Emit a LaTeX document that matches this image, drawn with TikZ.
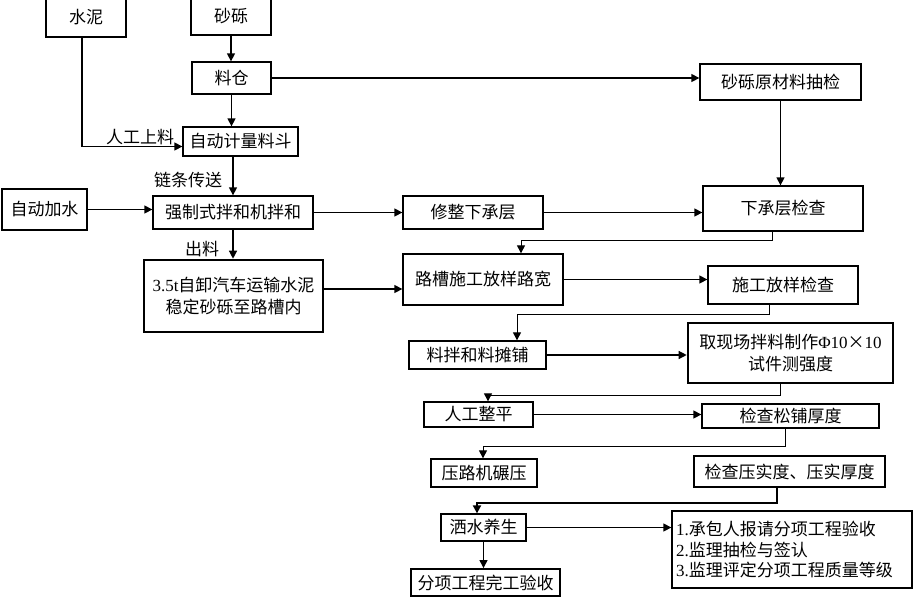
\documentclass[tikz,border=0pt]{standalone}
\usepackage{fontspec}
\setmainfont{Noto Sans CJK SC}
\newfontfamily\lat{Liberation Serif}
\usepackage{tikz}
\usetikzlibrary{arrows.meta, positioning, calc}
\newcommand\boxfont{\fontsize{17}{22}\selectfont}
\tikzset{
    % boxes with sharp corners
    stepbox/.style={
        rectangle,
        draw=black,
        fill=white,
        line width=1.3pt,
        inner sep=0pt,
        align=center,
        font=\boxfont
    },
    stepbox thick/.style={
        stepbox,
        line width=2.6pt
    },
    stepbox medium/.style={
        stepbox,
        line width=1.9pt
    },
    side label/.style={
        inner sep=0pt,
        font=\boxfont
    },
    arrow style/.style={
        -{Triangle[length=8pt,width=8pt]},
        line width=1.3pt,
        black
    },
    link style/.style={
        arrow style,
        line width=1pt
    }
}

\begin{document}
\begin{tikzpicture}[x=1pt, y=-1pt]
        \useasboundingbox (0,0) rectangle (914,598);

        % raw materials
        \node[stepbox, minimum width=80pt, minimum height=39pt] (shuini) at (86,17.5) {水泥};
        \node[stepbox, minimum width=80pt, minimum height=37pt] (shali) at (231,16.5) {砂砾};
        \node[stepbox, minimum width=79pt, minimum height=32pt] (liaocang) at (231.5,78) {料仓};
        \node[stepbox, minimum width=115pt, minimum height=29pt] (jiliang) at (240.5,141.5) {自动计量料斗};

        % mixing
        \node[stepbox, minimum width=85pt, minimum height=41pt] (jiashui) at (44.5,209.5) {自动加水};
        \node[stepbox, minimum width=160pt, minimum height=33pt] (jiaoban) at (233,212.5) {强制式拌和机拌和};
        \node[stepbox thick, minimum width=179pt, minimum height=72pt] (yunshu) at (233.5,296) {{\lat 3.5t}自卸汽车运输水泥\\稳定砂砾至路槽内};

        % construction steps
        \node[stepbox, minimum width=140pt, minimum height=33pt] (xiuzheng) at (473,212.5) {修整下承层};
        \node[stepbox, minimum width=160pt, minimum height=51pt] (lucao) at (483,279.5) {路槽施工放样路宽};
        \node[stepbox, minimum width=137pt, minimum height=28pt] (tanpu) at (477.5,355) {料拌和料摊铺};
        \node[stepbox, minimum width=109pt, minimum height=25pt] (zhengping) at (478.5,414.5) {人工整平};
        \node[stepbox, minimum width=106pt, minimum height=28pt] (nianya) at (484,473) {压路机碾压};
        \node[stepbox, minimum width=85pt, minimum height=27pt] (yangsheng) at (483.5,527.5) {洒水养生};
        \node[stepbox medium, minimum width=149pt, minimum height=27pt] (wangong) at (485.5,582.5) {分项工程完工验收};

        % checks
        \node[stepbox, minimum width=161pt, minimum height=36pt] (choujian) at (780.5,82) {砂砾原材料抽检};
        \node[stepbox, minimum width=160pt, minimum height=45pt] (xiajiancha) at (783,208.5) {下承层检查};
        \node[stepbox, minimum width=150pt, minimum height=38pt] (fangyang) at (783,285) {施工放样检查};
        \node[stepbox thick, minimum width=205pt, minimum height=60pt] (shiyan) at (790.5,353) {取现场拌料制作{\lat Φ10}×{\lat 10}\\试件测强度};
        \node[stepbox, minimum width=177pt, minimum height=24pt] (songpu) at (790.5,416) {检查松铺厚度};
        \node[stepbox medium, minimum width=191pt, minimum height=31pt] (yashi) at (789.5,471.5) {检查压实度、压实厚度};
        \node[stepbox, minimum width=240pt, minimum height=77pt, align=left, text width=232pt, font=\fontsize{17}{20.5}\selectfont] (yanshou) at (792,549.5) {{\lat 1.}承包人报请分项工程验收\\{\lat 2.}监理抽检与签认\\{\lat 3.}监理评定分项工程质量等级};

        % labels on the arrows
        \node[side label] (shangliao) at (140,137) {人工上料};
        \node[side label] (chuansong) at (188,180) {链条传送};
        \node[side label] (chuliao) at (202,249) {出料};

        % left column
        \draw[arrow style] (shali.south) -- (shali.south |- liaocang.north);
        \draw[arrow style] (liaocang.south) -- (liaocang.south |- jiliang.north);
        \draw[arrow style] ([xshift=-4pt]shuini.south) |- ([yshift=-5pt]jiliang.west);
        \draw[arrow style] (jiaoban.north |- jiliang.south) -- (jiaoban.north);
        \draw[arrow style] (jiashui.east) -- (jiashui.east -| jiaoban.west);
        \draw[arrow style] (jiaoban.south) -- (jiaoban.south |- yunshu.north);

        % across to the middle and right
        \draw[arrow style] (liaocang.east) -- (liaocang.east -| choujian.west);
        \draw[arrow style] (choujian.south) -- (choujian.south |- xiajiancha.north);
        \draw[arrow style] (jiaoban.east) -- (jiaoban.east -| xiuzheng.west);
        \draw[arrow style] (xiuzheng.east) -- (xiuzheng.east -| xiajiancha.west);
        \draw[arrow style] ([yshift=7pt]yunshu.east) -- ([yshift=7pt]yunshu.east -| lucao.west);
        \draw[arrow style] (lucao.east) -- (lucao.east -| fangyang.west);
        \draw[arrow style] (tanpu.east) -- (tanpu.east -| shiyan.west);
        \draw[arrow style] (zhengping.east) -- (zhengping.east -| songpu.west);
        \draw[arrow style] (yangsheng.east) -- (yangsheng.east -| yanshou.west);
        \draw[arrow style] (yangsheng.south) -- (yangsheng.south |- wangong.north);

        % checks back to the next step
        \draw[link style] ([xshift=-11pt]xiajiancha.south) -- ++(0,9) -| ([xshift=38pt]lucao.north);
        \draw[link style] ([xshift=-14pt]fangyang.south) -- ++(0,10) -| ([xshift=39.5pt]tanpu.north);
        \draw[link style] ([xshift=-10.5pt]shiyan.south) -- ++(0,11) -| ([xshift=9.5pt]zhengping.north);
        \draw[link style] ([xshift=-5.5pt]songpu.south) -- ++(0,18) -| ([xshift=-1pt]nianya.north);
        \draw[link style, line width=1.9pt] ([xshift=-12.5pt]yashi.south) -- ++(0,15) -| ([xshift=-6.5pt]yangsheng.north);
    \end{tikzpicture}
\end{document}
